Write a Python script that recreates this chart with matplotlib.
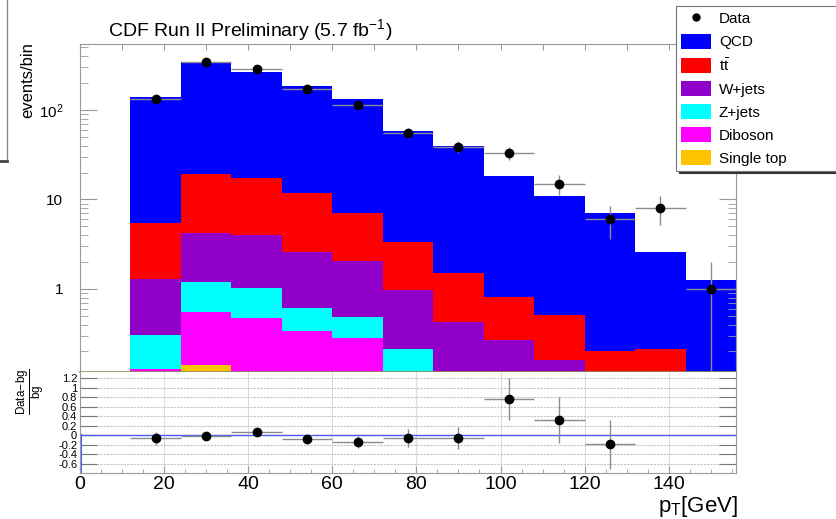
import numpy as np
import matplotlib
matplotlib.use('Agg')
import matplotlib.pyplot as plt
from matplotlib.patches import Patch
from matplotlib.lines import Line2D
from matplotlib.ticker import FixedLocator, FixedFormatter, MultipleLocator

plt.rcParams['font.family'] = ['Liberation Sans', 'DejaVu Sans']
plt.rcParams['mathtext.fontset'] = 'custom'
plt.rcParams['mathtext.rm'] = 'Liberation Sans'
plt.rcParams['mathtext.it'] = 'Liberation Sans:italic'
plt.rcParams['mathtext.bf'] = 'Liberation Sans:bold'

# ---- data ----
bin_edges = [12, 24, 36, 48, 60, 72, 84, 96, 108, 120, 132, 144, 156]
bin_centers = [18, 30, 42, 54, 66, 78, 90, 102, 114, 126, 138, 150]

# stacked backgrounds, bottom to top
single_top = [0.02, 0.14, 0.02, 0.02, 0.02, 0.01, 0.01, 0.0, 0.0, 0.0, 0.0, 0.0]
diboson = [0.105, 0.41, 0.45, 0.32, 0.26, 0.04, 0.02, 0.02, 0.01, 0.01, 0.0, 0.0]
zjets = [0.18, 0.66, 0.55, 0.27, 0.20, 0.16, 0.05, 0.03, 0.02, 0.01, 0.01, 0.0]
wjets = [0.98, 3.05, 2.98, 1.96, 1.57, 0.77, 0.35, 0.22, 0.13, 0.08, 0.07, 0.02]
ttbar = [4.2, 14.8, 13.5, 9.1, 4.95, 2.4, 1.07, 0.54, 0.35, 0.10, 0.13, 0.03]
qcd = [135.5, 328, 246.5, 175.3, 124, 55.2, 38.4, 17.6, 10.5, 6.9, 2.36, 1.2]

data = [131, 341, 285, 172, 114, 56, 39, 33, 15, 6, 8, 1]
data_err = [11.4, 18.5, 16.9, 13.1, 10.7, 7.5, 6.2, 5.7, 3.9, 2.4, 2.8, 0.999]

# ratio panel
ratio_x = [18, 30, 42, 54, 66, 78, 90, 102, 114, 126]
ratio = [-0.06, -0.02, 0.08, -0.08, -0.14, -0.05, -0.05, 0.77, 0.33, -0.19]
ratio_err = [0.14, 0.05, 0.05, 0.10, 0.12, 0.19, 0.23, 0.44, 0.48, 0.51]

labels = ['QCD', r'$\mathrm{t\bar{t}}$', 'W+jets', 'Z+jets', 'Diboson', 'Single top']
colors = ['#0000ff', '#ff0000', '#9000c8', '#00ffff', '#ff00ff', '#ffc400']

FRAME = '#9a9a9a'

fig = plt.figure(figsize=(8.36, 5.19), dpi=100)
ax = fig.add_axes([80/836, 1-372/519, 656/836, 328/519])
ax2 = fig.add_axes([80/836, 1-473/519, 656/836, 101/519])

# stack
layers = [single_top, diboson, zjets, wjets, ttbar, qcd]
base = np.full(len(bin_centers), 1e-3)
for vals, col in zip(layers, colors[::-1]):
    top = base + np.array(vals)
    ax.stairs(top, bin_edges, baseline=base, fill=True, color=col, lw=0)
    base = top

ax.errorbar(bin_centers, data, yerr=data_err, xerr=6, fmt='o', color='black',
            ms=6, ecolor='#8c8c8c', elinewidth=1, capsize=0, zorder=5)

ax.set_yscale('log')
ax.set_xlim(0, 156)
ax.set_ylim(0.118, 546)
ax.yaxis.set_major_locator(FixedLocator([1, 10, 100]))
ax.yaxis.set_major_formatter(FixedFormatter(['1', '10', r'$10^{2}$']))
ax.tick_params(axis='y', which='both', direction='in', left=True, right=True,
               color=FRAME, labelsize=11, pad=12)
ax.tick_params(axis='y', which='major', length=12)
ax.tick_params(axis='y', which='minor', length=6)
ax.xaxis.set_major_locator(MultipleLocator(10))
ax.tick_params(axis='x', which='both', bottom=False, top=True, labelbottom=False,
               direction='in', length=4, color=FRAME)
ax.xaxis.set_minor_locator(FixedLocator([]))
for s in ['left', 'top', 'right']:
    ax.spines[s].set_color(FRAME)
ax.spines['bottom'].set_color('#8e8e55')
ax.spines['bottom'].set_linewidth(1.2)

# ratio panel
ax2.set_xlim(0, 156)
ax2.set_ylim(-0.79, 1.33)
ax2.axhline(0, color='#4a5cff', lw=1, zorder=2)
ax2.plot([0.3, 0.3], [-0.79, 0], color='#4a5cff', lw=1.5, zorder=2)
ax2.errorbar(ratio_x, ratio, yerr=ratio_err, xerr=6, fmt='o', color='black',
             ms=6, ecolor='#8c8c8c', elinewidth=1, capsize=0, zorder=5)
ax2.yaxis.set_major_locator(FixedLocator([-0.6, -0.4, -0.2, 0, 0.2, 0.4, 0.6, 0.8, 1.0, 1.2]))
ax2.yaxis.set_major_formatter(FixedFormatter(['-0.6', '-0.4', '-0.2', '0', '0.2', '0.4',
                                              '0.6', '0.8', '1', '1.2']))
ax2.tick_params(axis='y', direction='in', left=True, right=True, length=12,
                color='#777777', labelsize=8, pad=2)
ax2.xaxis.set_major_locator(MultipleLocator(20))
ax2.xaxis.set_minor_locator(MultipleLocator(5))
ax2.tick_params(axis='x', which='major', direction='in', length=5, color=FRAME,
                labelsize=14, pad=2)
ax2.tick_params(axis='x', which='minor', direction='in', length=3, color=FRAME)
ax2.grid(axis='y', linestyle=(0, (2, 1)), color='#c4c4c4', lw=0.8)
ax2.grid(axis='x', color='#dcdcdc', lw=0.8)
ax2.spines['top'].set_visible(False)
for s in ['left', 'bottom', 'right']:
    ax2.spines[s].set_color(FRAME)

# texts
fig.text(108/836, 1-36/519, r'CDF Run II Preliminary (5.7 fb$^{-1}$)', fontsize=14,
         ha='left', va='baseline')
fig.text(28/836, 1-80/519, 'events/bin', fontsize=12, rotation=90, ha='center', va='center')
fig.text(31/836, 1-392/519, r'$\frac{\mathrm{Data\!-\!bg}}{\mathrm{bg}}$', fontsize=12,
         rotation=90, ha='center', va='center')
fig.text(738/836, 1-512/519, r'p$_{\mathrm{T}}$[GeV]', fontsize=16, ha='right', va='baseline')

# stray frame at the left edge
fig.add_artist(Line2D([7/836, 7/836], [1.0, 1-161/519], color='#888888', lw=1))
fig.add_artist(Line2D([0, 7/836], [1-161/519, 1-161/519], color='#444444', lw=2))

# legend
handles = [Line2D([], [], marker='o', color='black', ls='none', ms=5)]
handles += [Patch(facecolor=c, edgecolor='none') for c in colors]
leg = fig.legend(handles, ['Data'] + labels, loc='upper left',
                 bbox_to_anchor=(676/836, 0.0, 0.3, 1-6/519), mode='expand',
                 borderaxespad=0, fontsize=11, handlelength=2.0, handleheight=1.15,
                 labelspacing=0.48, handletextpad=0.5, borderpad=0.3, fancybox=False,
                 framealpha=1, edgecolor='#777777', shadow={'color': '#333333', 'alpha': 1})
leg.get_frame().set_linewidth(0.8)

fig.savefig('out.png', dpi=100)
